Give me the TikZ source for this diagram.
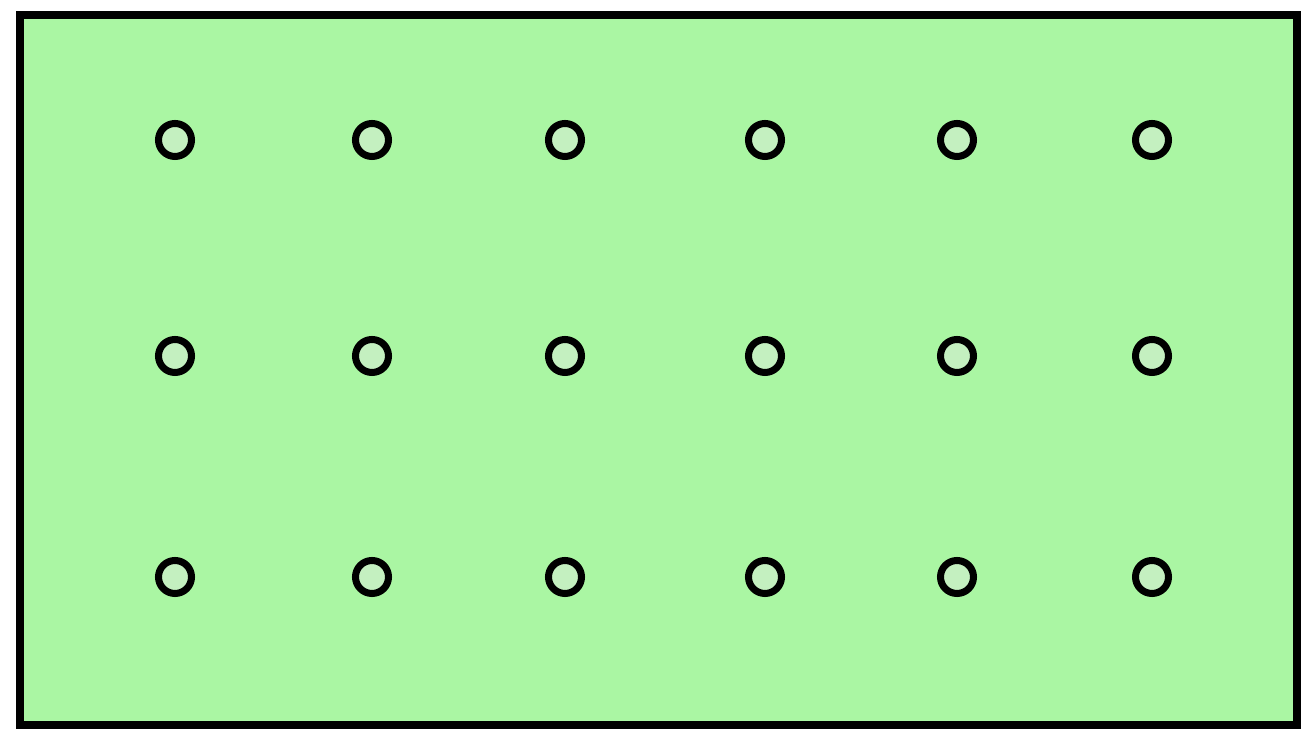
\documentclass[tikz,border=0pt]{standalone}
\usepackage{tikz}
\usepackage{xcolor}
\definecolor{boardgreen}{RGB}{170,246,163}
\definecolor{holegreen}{RGB}{196,240,192}

\begin{document}
\begin{tikzpicture}[line cap=round,
  hole/.style={circle,draw=black,line width=2pt,fill=holegreen,minimum size=0.33cm,inner sep=0pt}]
\useasboundingbox (0,0) rectangle (13.07,7.42);
\draw[line width=2.4pt,fill=boardgreen] (0.20,0.17) rectangle (12.97,7.27);
\foreach \y [count=\r] in {6.02,3.86,1.65}{
  \foreach \x [count=\c] in {1.75,3.72,5.65,7.65,9.57,11.52}{
    \node[hole] (h\r\c) at (\x,\y) {};
  }
}
\end{tikzpicture}
\end{document}
